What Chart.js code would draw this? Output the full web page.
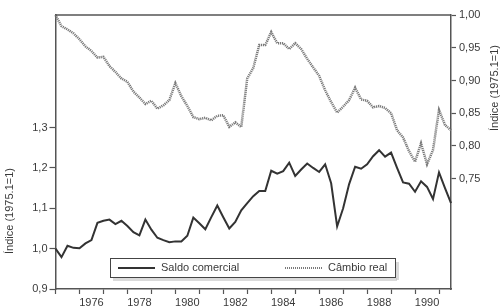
<!DOCTYPE html>
<html>
<head>
<meta charset="utf-8">
<script src="https://cdn.jsdelivr.net/npm/chart.js@4/dist/chart.umd.min.js"></script>
<style>
  html, body { margin: 0; padding: 0; background: #fff; }
  #wrap { width: 503px; height: 306px; position: relative; }
</style>
</head>
<body>
<div id="wrap"><canvas id="myChart"></canvas></div>
<script>
// quarterly data, 1975.1 to 1991.3
const years = [1975, 1976, 1977, 1978, 1979, 1980, 1981, 1982, 1983, 1984, 1985, 1986, 1987, 1988, 1989, 1990, 1991];
const quarters = ["1", "2", "3", "4"];

const saldoComercial = [
  1.000, 0.979, 1.007, 1.002, 1.001, 1.013, 1.021, 1.064, 1.069, 1.072, 1.061, 1.069,
  1.056, 1.041, 1.033, 1.072, 1.047, 1.027, 1.021, 1.016, 1.018, 1.018, 1.032, 1.077,
  1.063, 1.048, 1.078, 1.107, 1.078, 1.050, 1.066, 1.095, 1.113, 1.130, 1.143, 1.143,
  1.193, 1.186, 1.192, 1.213, 1.180, 1.196, 1.211, 1.200, 1.190, 1.209, 1.162, 1.055,
  1.100, 1.160, 1.203, 1.198, 1.209, 1.229, 1.244, 1.228, 1.238, 1.200, 1.164, 1.161,
  1.141, 1.167, 1.153, 1.123, 1.189, 1.150, 1.113
];

const cambioReal = [
  1.000, 0.983, 0.978, 0.972, 0.963, 0.952, 0.945, 0.935, 0.936, 0.922, 0.913, 0.903,
  0.898, 0.883, 0.874, 0.864, 0.869, 0.857, 0.862, 0.870, 0.896, 0.876, 0.861, 0.844,
  0.841, 0.843, 0.839, 0.846, 0.847, 0.829, 0.836, 0.829, 0.903, 0.919, 0.954, 0.954,
  0.974, 0.957, 0.957, 0.948, 0.957, 0.948, 0.933, 0.920, 0.907, 0.885, 0.867, 0.851,
  0.860, 0.870, 0.889, 0.871, 0.869, 0.859, 0.861, 0.858, 0.850, 0.824, 0.813, 0.792,
  0.776, 0.804, 0.772, 0.794, 0.855, 0.832, 0.824
];

const leftTicks = [0.9, 1.0, 1.1, 1.2, 1.3];
const rightTicks = [0.75, 0.80, 0.85, 0.90, 0.95, 1.00];
const axisTitle = "Índice (1975.1=1)";

const labels = years.flatMap((y) => quarters.map((q) => y + "." + q)).slice(0, saldoComercial.length);

const FONT = "'Liberation Sans', Arial, sans-serif";
const INK = "#3a3a3a";

// frame top, axis titles and the boxed legend
const decor = {
  id: "decor",
  afterDraw(chart) {
    const ctx = chart.ctx;
    const a = chart.chartArea;
    ctx.save();
    ctx.strokeStyle = "#555";
    ctx.lineWidth = 1.5;
    ctx.beginPath();
    ctx.moveTo(a.left, a.top);
    ctx.lineTo(a.right, a.top);
    ctx.stroke();

    ctx.fillStyle = INK;
    ctx.font = "11px " + FONT;
    ctx.textAlign = "center";
    ctx.textBaseline = "middle";
    ctx.save();
    ctx.translate(10, 211);
    ctx.rotate(-Math.PI / 2);
    ctx.fillText(axisTitle, 0, 0);
    ctx.restore();
    ctx.save();
    ctx.translate(495, 88);
    ctx.rotate(-Math.PI / 2);
    ctx.fillText(axisTitle, 0, 0);
    ctx.restore();

    // legend box
    const bx = 110.5, by = 258.5, bw = 285, bh = 19;
    ctx.strokeStyle = "#b5b5b5";
    ctx.lineWidth = 3;
    ctx.setLineDash([1, 1]);
    ctx.beginPath();
    ctx.moveTo(bx + 3, by + bh + 2);
    ctx.lineTo(bx + bw + 2, by + bh + 2);
    ctx.lineTo(bx + bw + 2, by + 3);
    ctx.stroke();
    ctx.setLineDash([]);
    ctx.fillStyle = "#fff";
    ctx.fillRect(bx, by, bw, bh);
    ctx.strokeStyle = "#444";
    ctx.lineWidth = 1;
    ctx.strokeRect(bx, by, bw, bh);

    const ds = chart.data.datasets;
    const my = by + bh / 2;
    ctx.strokeStyle = ds[0].borderColor;
    ctx.lineWidth = 2;
    ctx.beginPath();
    ctx.moveTo(118, my);
    ctx.lineTo(155, my);
    ctx.stroke();
    ctx.strokeStyle = ds[1].borderColor;
    ctx.lineWidth = 2;
    ctx.setLineDash([1, 1]);
    ctx.beginPath();
    ctx.moveTo(285, my);
    ctx.lineTo(323, my);
    ctx.stroke();
    ctx.setLineDash([]);

    ctx.fillStyle = INK;
    ctx.textAlign = "left";
    ctx.fillText(ds[0].label, 161, my);
    ctx.fillText(ds[1].label, 328, my);
    ctx.restore();
  }
};

const ctx = document.getElementById("myChart");
const chart = new Chart(ctx, {
  type: "line",
  data: {
    labels: labels,
    datasets: [
      {
        label: "Saldo comercial",
        data: saldoComercial,
        yAxisID: "y",
        borderColor: "#333",
        borderWidth: 2,
        pointRadius: 0,
        tension: 0,
      },
      {
        label: "Câmbio real",
        data: cambioReal,
        yAxisID: "y1",
        borderColor: "#7a7a7a",
        borderWidth: 2.5,
        borderDash: [1.2, 0.8],
        pointRadius: 0,
        tension: 0,
        clip: 3,
      },
    ],
  },
  options: {
    responsive: true,
    maintainAspectRatio: false,
    animation: false,
    layout: { padding: { top: 15, left: 0, right: 0, bottom: 0 } },
    plugins: { legend: { display: false }, tooltip: { enabled: false } },
    scales: {
      x: {
        type: "category",
        offset: false,
        afterBuildTicks: (axis) => {
          axis.ticks = axis.ticks.filter((t) => t.value % 4 === 0);
        },
        afterFit: (axis) => { axis.height = 17; },
        grid: { drawOnChartArea: false, tickLength: 5, tickColor: "#555", tickWidth: 1.2 },
        border: { display: true, color: "#555", width: 1.5 },
        ticks: {
          autoSkip: false,
          maxRotation: 0,
          padding: 2,
          labelOffset: 12,
          color: INK,
          font: { family: FONT, size: 11 },
          callback: function (value) {
            const y = parseInt(this.getLabelForValue(value));
            return y % 2 === 0 && y < 1991 ? String(y) : "";
          },
        },
      },
      y: {
        position: "left",
        min: 0.9,
        max: 1.579,
        afterBuildTicks: (axis) => {
          axis.ticks = leftTicks.map((v) => ({ value: v }));
        },
        afterFit: (axis) => { axis.width = 55.5; },
        grid: { drawOnChartArea: false, tickLength: 6, tickColor: "#555", tickWidth: 1.2 },
        border: { display: true, color: "#555", width: 1.5 },
        ticks: {
          padding: 2,
          color: INK,
          font: { family: FONT, size: 11 },
          callback: (v) => v.toFixed(1).replace(".", ","),
        },
      },
      y1: {
        position: "right",
        min: 0.5815,
        max: 1.0,
        afterBuildTicks: (axis) => {
          axis.ticks = rightTicks.map((v) => ({ value: v }));
        },
        afterFit: (axis) => { axis.width = 52; },
        grid: { drawOnChartArea: false, tickLength: 5, tickColor: "#555", tickWidth: 1.2 },
        border: { display: true, color: "#555", width: 1.5 },
        ticks: {
          padding: 3,
          color: INK,
          font: { family: FONT, size: 11 },
          callback: (v) => v.toFixed(2).replace(".", ","),
        },
      },
    },
  },
  plugins: [decor],
});
</script>
</body>
</html>
